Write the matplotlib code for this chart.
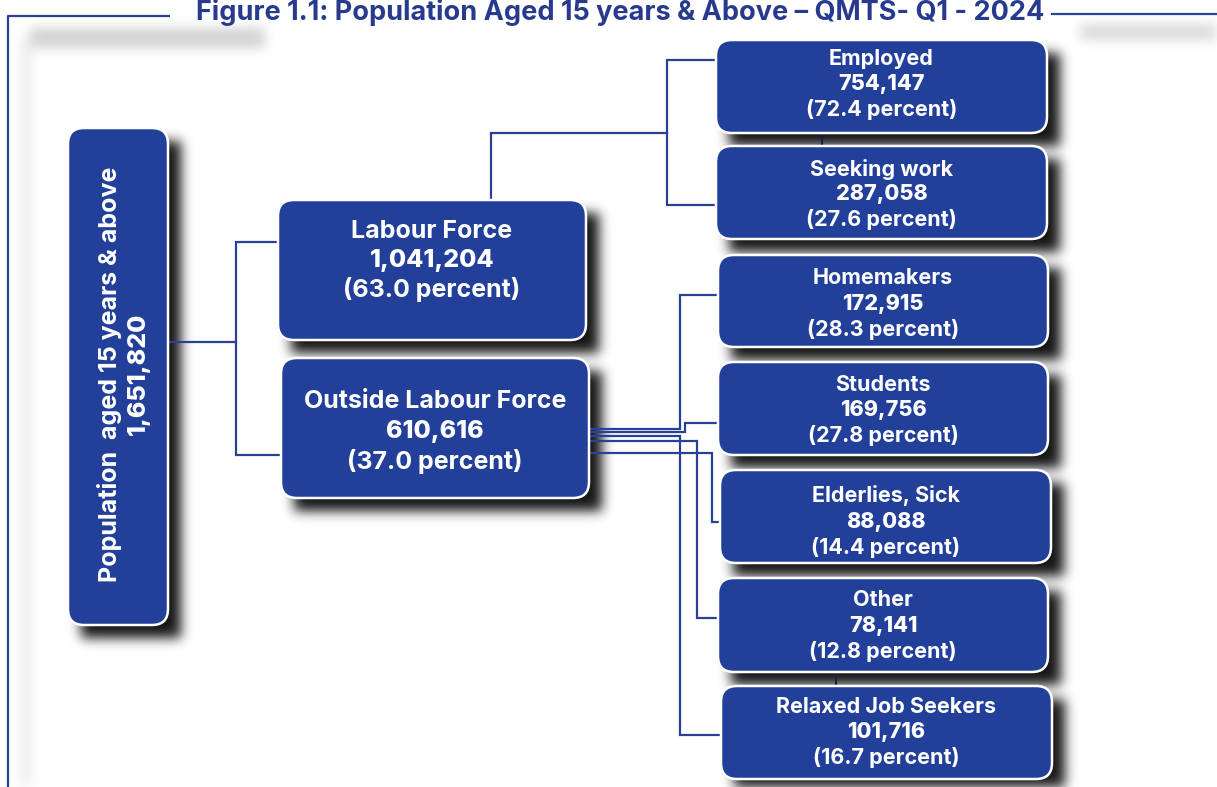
import numpy as np
import matplotlib
matplotlib.use("Agg")
import matplotlib.pyplot as plt
from matplotlib.patches import FancyBboxPatch

# ---------------- data ----------------
title = "Figure 1.1: Population Aged 15 years & Above \u2013 QMTS- Q1 - 2024"
root_label = "Population  aged 15 years & above"
root_value = 1651820
level1_labels = ["Labour Force", "Outside Labour Force"]
level1_values = [1041204, 610616]
level1_pct = [63.0, 37.0]
lf_labels = ["Employed", "Seeking work"]
lf_values = [754147, 287058]
lf_pct = [72.4, 27.6]
olf_labels = ["Homemakers", "Students", "Elderlies, Sick", "Other", "Relaxed Job Seekers"]
olf_values = [172915, 169756, 88088, 78141, 101716]
olf_pct = [28.3, 27.8, 14.4, 12.8, 16.7]

# ---------------- layout (pixels) ----------------
W, H = 1217, 787
BLUE = "#22409a"
LINE = "#2a3f96"
FONT = ["Inter", "DejaVu Sans"]

root_box = (68, 128, 168, 625)
l1_boxes = [(278, 200, 586, 340), (281, 358, 589, 498)]
l1_first = [231, 402]
lf_boxes = [(716, 40, 1047, 133), (716, 146, 1047, 239)]
olf_boxes = [(718, 255, 1048, 347), (718, 362, 1048, 455), (720, 470, 1051, 563),
             (718, 578, 1048, 672), (721, 686, 1052, 779)]
small_first = [59, 169, 278, 385, 496, 600, 707]

fig = plt.figure(figsize=(W / 100, H / 100), dpi=100)
ax = fig.add_axes([0, 0, 1, 1])
ax.set_xlim(0, W)
ax.set_ylim(H, 0)
ax.axis("off")

# ---------------- shadows (blurred) ----------------
mask = np.zeros((H, W))
def add_rect(x0, y0, x1, y1, a=1.0):
    sl = (slice(max(y0, 0), min(y1, H)), slice(max(x0, 0), min(x1, W)))
    mask[sl] = np.maximum(mask[sl], a)
dx, dy = 13, 13
for b in [root_box] + l1_boxes + lf_boxes + olf_boxes:
    add_rect(int(b[0] + dx), int(b[1] + dy), int(b[2] + dx), int(b[3] + dy), 0.92)
add_rect(30, 28, 265, 48, 0.18)
add_rect(1080, 24, 1217, 40, 0.15)
add_rect(22, 40, 30, 787, 0.10)

def blur(a, s):
    r = int(3 * s)
    k = np.exp(-0.5 * (np.arange(-r, r + 1) / s) ** 2)
    k /= k.sum()
    a = np.apply_along_axis(lambda m: np.convolve(m, k, mode="same"), 0, a)
    a = np.apply_along_axis(lambda m: np.convolve(m, k, mode="same"), 1, a)
    return a
mask = blur(mask, 6)
img = np.zeros((H, W, 4))
img[..., 3] = np.clip(mask, 0, 1)
ax.imshow(img, extent=(0, W, H, 0), zorder=1, interpolation="bilinear")

# ---------------- frame + title ----------------
ax.plot([8, 8, 170], [787, 16, 16], color=LINE, lw=1.6, zorder=2, solid_capstyle="butt")
ax.plot([1052, 1217], [14, 14], color=LINE, lw=1.6, zorder=2)
ax.text(620, 12, title, ha="center", va="center", fontsize=19.5, fontweight="bold",
        color="#273a8e", family=FONT, zorder=5)

# ---------------- connectors ----------------
def poly(xs, ys):
    ax.plot(xs, ys, color=LINE, lw=1.6, zorder=2, solid_joinstyle="miter")

poly([168, 236], [342, 342])
poly([278, 236, 236, 281], [242, 242, 455, 455])
poly([491, 491, 667], [200, 133, 133])
poly([716, 667, 667, 716], [60, 60, 205, 205])
poly([589, 680, 680, 718], [429, 429, 295, 295])
poly([589, 685, 685, 718], [432, 432, 423, 423])
poly([589, 680, 680, 721], [436, 436, 735, 735])
poly([589, 697, 697, 718], [441, 441, 618, 618])
poly([589, 712, 712, 720], [453, 453, 522, 522])
ax.plot([822, 822], [133, 146], color="#1a2040", lw=1.5, zorder=2)
ax.plot([836, 836], [672, 686], color="#1a2040", lw=1.5, zorder=2)

# ---------------- boxes ----------------
def box(b, r=16):
    x0, y0, x1, y1 = b
    ax.add_patch(FancyBboxPatch((x0, y0), x1 - x0, y1 - y0,
                                boxstyle=f"round,pad=0,rounding_size={r}",
                                fc=BLUE, ec="white", lw=1.8, zorder=3))

box(root_box)
cx = (root_box[0] + root_box[2]) / 2
cy = 374
ax.text(cx - 8, cy, root_label, rotation=90, ha="center", va="center", color="white",
        fontsize=18, fontweight="bold", family=FONT, zorder=4)
ax.text(cx + 20, cy, f"{root_value:,}", rotation=90, ha="center", va="center",
        color="white", fontsize=18, fontweight="heavy", family=FONT, zorder=4)

def labelled(b, name, val, pct, fs, gap, y_first):
    box(b)
    cxx = (b[0] + b[2]) / 2
    ax.text(cxx, y_first, name, ha="center", va="center", color="white", fontsize=fs,
            fontweight="bold", family=FONT, zorder=4)
    ax.text(cxx, y_first + gap, f"{val:,}", ha="center", va="center", color="white",
            fontsize=fs, fontweight="heavy", family=FONT, zorder=4)
    ax.text(cxx, y_first + 2 * gap, f"({pct:.1f} percent)", ha="center", va="center",
            color="white", fontsize=fs, fontweight="bold", family=FONT, zorder=4)

for b, n, v, p, yf in zip(l1_boxes, level1_labels, level1_values, level1_pct, l1_first):
    labelled(b, n, v, p, 18, 29.5, yf)
for b, n, v, p, yf in zip(lf_boxes + olf_boxes, lf_labels + olf_labels,
                          lf_values + olf_values, lf_pct + olf_pct, small_first):
    labelled(b, n, v, p, 15.5, 25.5, yf)

fig.savefig("out.png", dpi=100)
